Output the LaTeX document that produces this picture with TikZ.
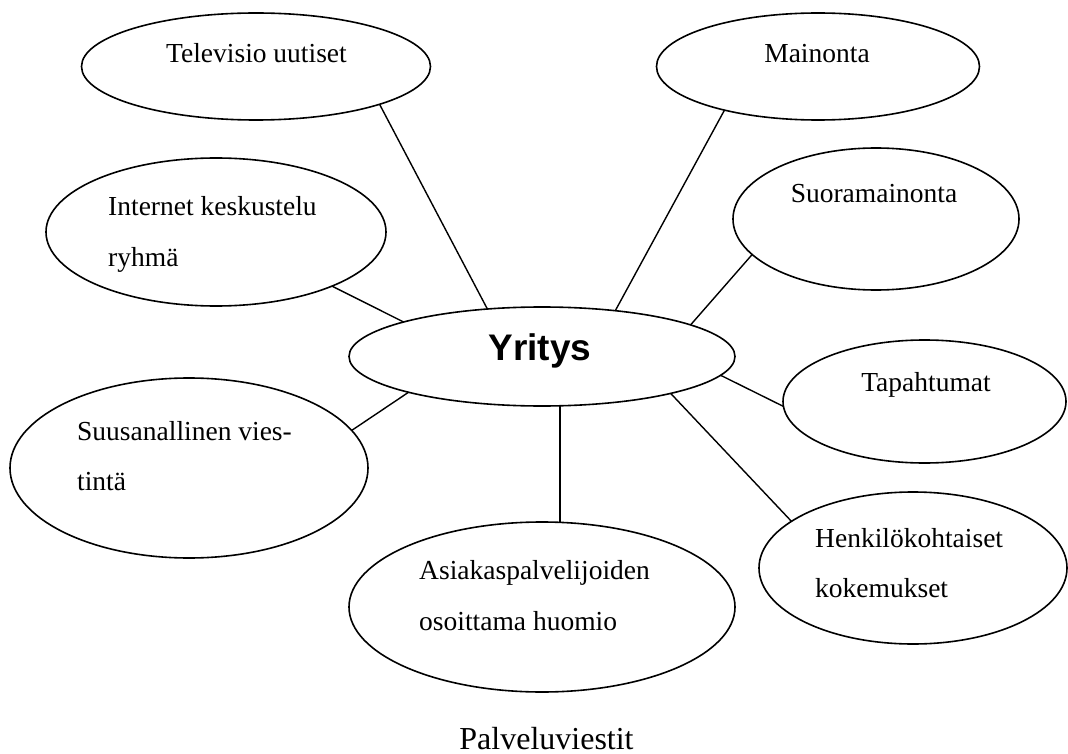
\documentclass[tikz,border=0pt]{standalone}
\usepackage{fontspec}
\setmainfont{Liberation Serif}
\newfontfamily\headfont{Liberation Sans}
\usetikzlibrary{shapes.geometric}

\tikzset{
  bubble/.style={draw=black, line width=1.6pt, ellipse, inner sep=0pt, outer sep=0pt},
  link/.style={draw=black, line width=1.4pt},
  bubbletext/.style={inner sep=0pt, font=\fontsize{27.5}{33}\selectfont},
}

\begin{document}
\begin{tikzpicture}[x=1pt, y=-1pt]
  \fill[white] (0,0) rectangle (1068,754);
  \useasboundingbox (0,0) rectangle (1068,754);

  % central company bubble
  \node[bubble, minimum width=386pt, minimum height=99pt] (yr) at (542,356.5) {};
  \node[inner sep=0pt, anchor=base, font=\headfont\bfseries\fontsize{37}{44}\selectfont] (yrtext) at (540,360) {Yritys};

  % surrounding channels
  \node[bubble, minimum width=349pt, minimum height=107pt] (tv)   at (256,66.5) {};
  \node[bubble, minimum width=323pt, minimum height=107pt] (main) at (818,66.5) {};
  \node[bubble, minimum width=340pt, minimum height=148pt] (int)  at (216,232) {};
  \node[bubble, minimum width=286pt, minimum height=142pt] (suo)  at (876,219) {};
  \node[bubble, minimum width=283pt, minimum height=123pt] (tap)  at (924.5,401.5) {};
  \node[bubble, minimum width=358pt, minimum height=180pt] (suu)  at (189,468) {};
  \node[bubble, minimum width=386pt, minimum height=170pt] (asi)  at (542,607) {};
  \node[bubble, minimum width=308pt, minimum height=152pt] (hen)  at (913,568) {};

  % labels
  \node[bubbletext, anchor=base] (tvtext)   at (256.5,63) {Televisio uutiset};
  \node[bubbletext, anchor=base] (maintext) at (817,63) {Mainonta};
  \node[bubbletext, anchor=base] (suotext)  at (874,203) {Suoramainonta};
  \node[bubbletext, anchor=base] (taptext)  at (926,391) {Tapahtumat};
  \node[bubbletext, anchor=base west] (inta) at (108,215) {Internet keskustelu};
  \node[bubbletext, anchor=base west] (intb) at (108,266) {ryhmä};
  \node[bubbletext, anchor=base west] (suua) at (77,440) {Suusanallinen vies-};
  \node[bubbletext, anchor=base west] (suub) at (77,490) {tintä};
  \node[bubbletext, anchor=base west] (hena) at (815,547) {Henkilökohtaiset};
  \node[bubbletext, anchor=base west] (henb) at (815,597) {kokemukset};
  \node[bubbletext, anchor=base west] (asia) at (419,579) {Asiakaspalvelijoiden};
  \node[bubbletext, anchor=base west] (asib) at (419,630) {osoittama huomio};

  % connectors
  \draw[link] (tv.-17.4)   -- (yr.139);
  \draw[link] (main.205.6) -- (yr.32.1);
  \draw[link] (int.-25.9)  -- (yr.166);
  \draw[link] (suo.196.2)  -- (yr.12.9);
  \draw[link] (yr.-6.9)    -- (tap.182.2);
  \draw[link] (suu.13.1)   -- (yr.195.1);
  \draw[link] (yr.-16.1)   -- (hen.159.8);
  \draw[link] (yr.-70)     -- (yr.-70 |- asi.north);

  % caption
  \node[inner sep=0pt, anchor=base, font=\fontsize{32}{38}\selectfont] (caption) at (546.5,749) {Palveluviestit};
\end{tikzpicture}
\end{document}
